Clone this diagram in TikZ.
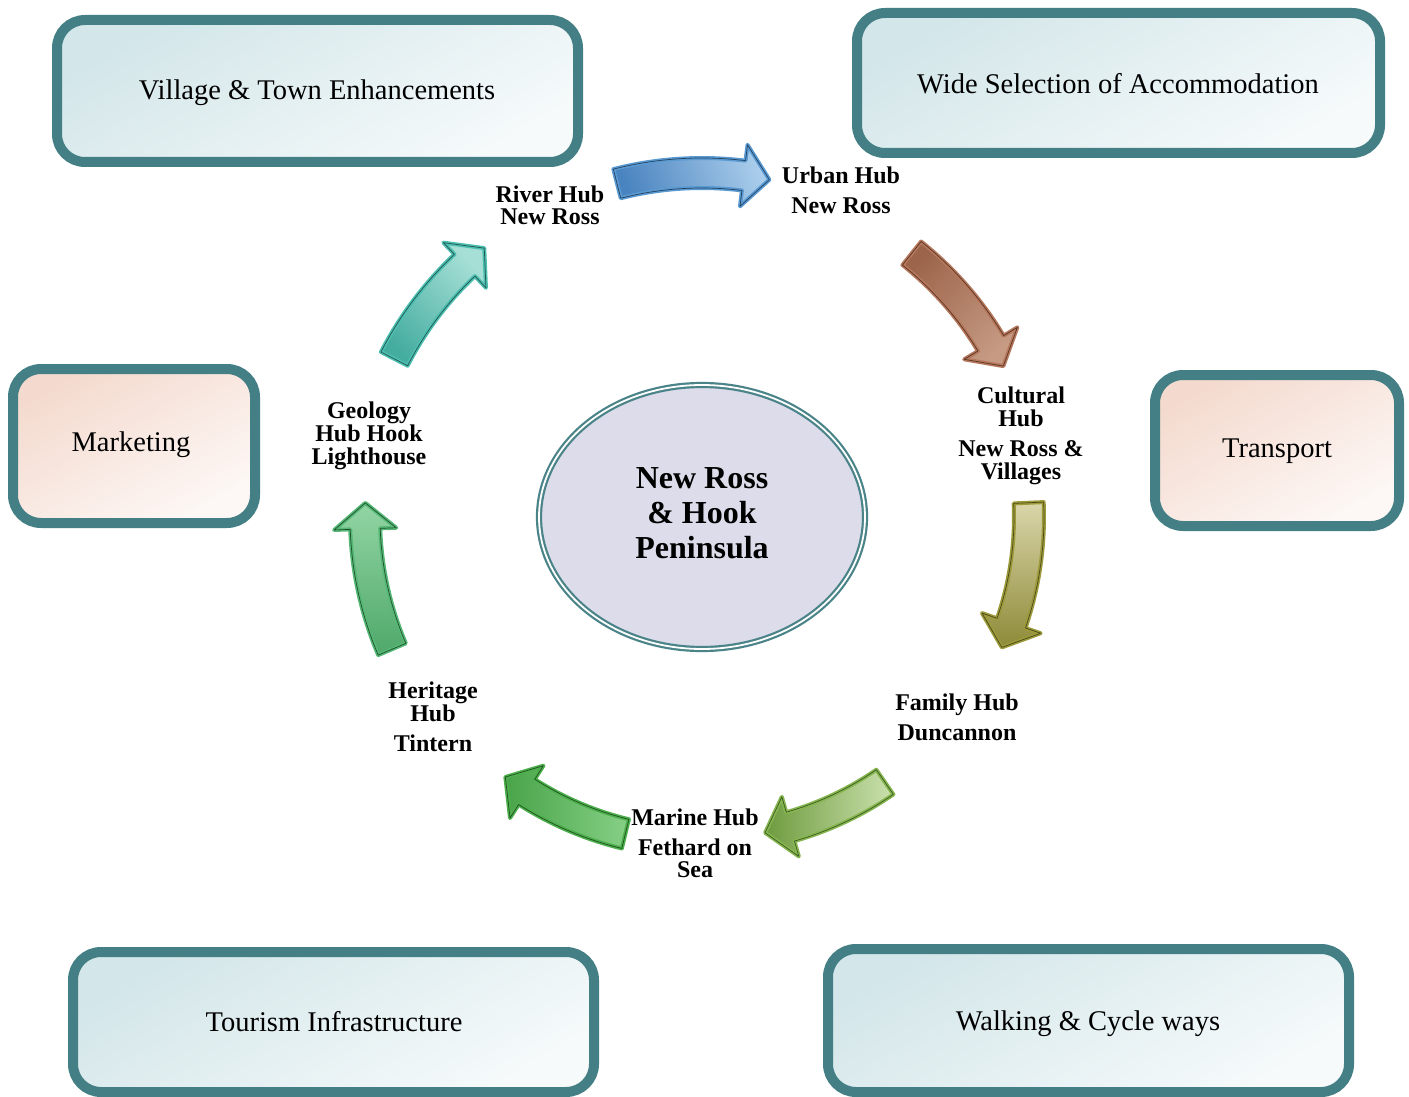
\documentclass[tikz,border=0pt]{standalone}
\usepackage{fontspec}
\setmainfont{Liberation Serif}
\definecolor{boxline}{HTML}{437F84}
\definecolor{boxA}{HTML}{D3E6E9}
\definecolor{boxB}{HTML}{F6FAFB}
\definecolor{pinkA}{HTML}{F4DACE}
\definecolor{pinkB}{HTML}{FDF8F6}
\definecolor{ellfill}{HTML}{DCDCEA}
\definecolor{ellline}{HTML}{4A8489}
% arrow colours
\definecolor{bluD}{HTML}{4A84C0}\definecolor{bluL}{HTML}{AACDEB}\definecolor{bluB}{HTML}{5A9AD3}\definecolor{bluK}{HTML}{24425E}
\definecolor{broD}{HTML}{9C654B}\definecolor{broL}{HTML}{C69A83}\definecolor{broB}{HTML}{B5785C}\definecolor{broK}{HTML}{5A3526}
\definecolor{oliD}{HTML}{8D8A38}\definecolor{oliL}{HTML}{DAD6AA}\definecolor{oliB}{HTML}{9C9A3A}\definecolor{oliK}{HTML}{4A4818}
\definecolor{famD}{HTML}{6E9B3E}\definecolor{famL}{HTML}{CBE1AE}\definecolor{famB}{HTML}{86B650}\definecolor{famK}{HTML}{3E5A20}
\definecolor{marD}{HTML}{49A449}\definecolor{marL}{HTML}{86D086}\definecolor{marB}{HTML}{4DB04D}\definecolor{marK}{HTML}{1F4F1F}
\definecolor{herD}{HTML}{4FA86A}\definecolor{herL}{HTML}{92D5A4}\definecolor{herB}{HTML}{55B874}\definecolor{herK}{HTML}{1F4F30}
\definecolor{teaD}{HTML}{45ADA0}\definecolor{teaL}{HTML}{A6DFD6}\definecolor{teaB}{HTML}{4DBFB0}\definecolor{teaK}{HTML}{1F5550}
\tikzset{
  infobox/.style={draw=boxline, line width=10pt, rounded corners=28pt, top color=boxA, bottom color=boxB, shading angle=30},
  pinkbox/.style={draw=boxline, line width=10pt, rounded corners=28pt, top color=pinkA, bottom color=pinkB, shading angle=30},
  boxtext/.style={font=\fontsize{28.5}{34}\selectfont, anchor=base, inner sep=0pt},
  hubtext/.style={font=\bfseries\fontsize{24}{22}\selectfont, anchor=base, inner sep=0pt},
  centtext/.style={font=\bfseries\fontsize{32}{35}\selectfont, anchor=base, inner sep=0pt}
}
% #1 a1, #2 a2, #3 R, #4 dark, #5 light, #6 angle, #7 border, #8 inner line
\newcommand\hubarrow[8]{%
  \pgfmathsetmacro\hah{#2-26/#3*57.2958}%
  \pgfmathsetmacro\hro{#3+15}%
  \pgfmathsetmacro\hri{#3-15}%
  \pgfmathsetmacro\hho{#3+31}%
  \pgfmathsetmacro\hhi{#3-31}%
  \path[top color=#4, bottom color=#5, shading angle=#6, draw=#7, line width=4pt, line join=round,
        postaction={draw=#8, line width=0.7pt, line join=round}]
    (#1:\hro) -- plot[domain=#1:\hah, samples=30] (\x:\hro) -- (\hah:\hho) -- (#2:#3)
    -- (\hah:\hhi) -- (\hah:\hri) -- plot[domain=\hah:#1, samples=30] (\x:\hri) -- cycle;
}
\begin{document}
\begin{tikzpicture}[x=1pt, y=-1pt]
\useasboundingbox[fill=white] (0,0) rectangle (1409,1097);

% boxes
\draw[infobox] (57,20) rectangle (578,162);
\draw[infobox] (857,13) rectangle (1380,153);
\draw[pinkbox] (13,369) rectangle (255,523);
\draw[pinkbox] (1155,375) rectangle (1399,526);
\draw[infobox] (73,952) rectangle (594,1092);
\draw[infobox] (828,949) rectangle (1349,1092);

\node[boxtext] (tVillage) at (317,100) {Village \& Town Enhancements};
\node[boxtext] (tWide) at (1118,94) {Wide Selection of Accommodation};
\node[boxtext] (tMarketing) at (131,451) {Marketing};
\node[boxtext] (tTransport) at (1277,457) {Transport};
\node[boxtext] (tTourism) at (334,1031) {Tourism Infrastructure};
\node[boxtext] (tWalking) at (1088,1030) {Walking \& Cycle ways};

% centre ellipse
\draw[fill=ellfill, draw=ellline, line width=2.2pt, double=white, double distance=1.8pt] (702,517) ellipse [x radius=163, y radius=132];
\node[centtext] (c1) at (702,488) {New Ross};
\node[centtext] (c2) at (702,523) {\& Hook};
\node[centtext] (c3) at (702,558) {Peninsula};

% hub labels
\node[hubtext] (r1) at (550,202) {River Hub};
\node[hubtext] (r2) at (550,225) {New Ross};
\node[hubtext] (u1) at (841,184) {Urban Hub};
\node[hubtext] (u2) at (841,214) {New Ross};
\node[hubtext] (k1) at (1021,403) {Cultural};
\node[hubtext] (k2) at (1021,426) {Hub};
\node[hubtext] (k3) at (1021,456) {New Ross \&};
\node[hubtext] (k4) at (1021,479) {Villages};
\node[hubtext] (f1) at (957,710) {Family Hub};
\node[hubtext] (f2) at (957,740) {Duncannon};
\node[hubtext] (m1) at (695,825) {Marine Hub};
\node[hubtext] (m2) at (695,855) {Fethard on};
\node[hubtext] (m3) at (695,877) {Sea};
\node[hubtext] (h1) at (433,698) {Heritage};
\node[hubtext] (h2) at (433,721) {Hub};
\node[hubtext] (h3) at (433,751) {Tintern};
\node[hubtext] (g1) at (369,418) {Geology};
\node[hubtext] (g2) at (369,441) {Hub Hook};
\node[hubtext] (g3) at (369,464) {Lighthouse};

% curved arrows around the centre
\begin{scope}[shift={(702,517)}]
  \hubarrow{-104.3}{-78.7}{344}{bluD}{bluL}{110}{bluB}{bluK}
  \hubarrow{-51.5}{-26.6}{337}{broD}{broL}{45}{broB}{broK}
  \hubarrow{-2.5}{23.5}{327}{oliD}{oliL}{180}{oliB}{oliK}
  \hubarrow{55.4}{78.7}{322}{famD}{famL}{90}{famB}{famK}
  \hubarrow{103.6}{127.1}{326}{marD}{marL}{90}{marB}{marK}
  \hubarrow{156.9}{182.4}{337}{herD}{herL}{180}{herB}{herK}
  \hubarrow{207.2}{231}{346}{teaD}{teaL}{135}{teaB}{teaK}
\end{scope}
\end{tikzpicture}
\end{document}
